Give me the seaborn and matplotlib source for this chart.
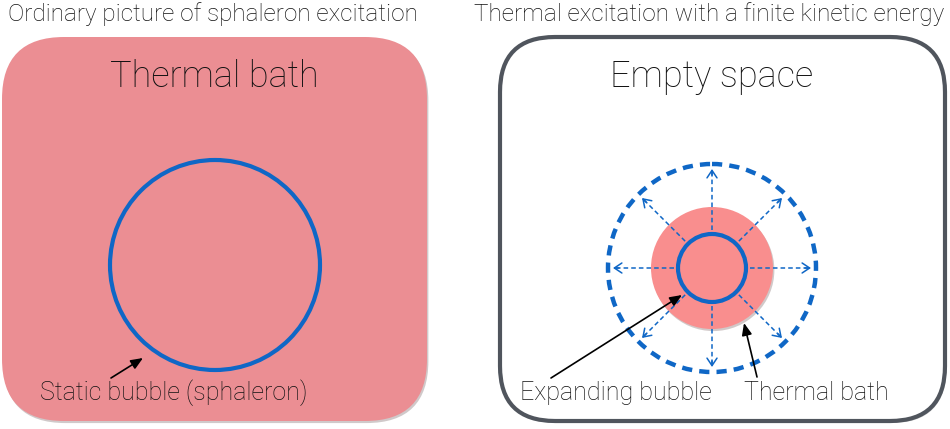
import numpy as np
import matplotlib
matplotlib.use("Agg")
import matplotlib.pyplot as plt
import matplotlib.patheffects as pe
from matplotlib.patches import FancyBboxPatch, Circle
import seaborn as sns

# panel titles and labels
panel_titles = ["Ordinary picture of sphaleron excitation",
                "Thermal excitation with a finite kinetic energy"]
box_titles = ["Thermal bath", "Empty space"]
labels_left = ["Static bubble (sphaleron)"]
labels_right = ["Expanding bubble", "Thermal bath"]

# geometry (pixel units)
box_x = [2, 500]
box_w = [425, 445]
box_y, box_h = 37, 384
left_center = (215, 265)
left_radius = 105
right_center = (712, 268)
bath_radius = 61
inner_radius = 34
outer_radius = 104
arrow_angles = [0, 45, 90, 135, 180, 225, 270, 315]

BLUE = "#0f67c6"
PINK_BOX = "#eb8e93"
PINK_DISK = "#f98e8e"
GRAY = "#50555d"
TXT = "#111111"

sns.set_theme(style="white")
plt.rcParams['font.family'] = ['Roboto', 'DejaVu Sans']

fig = plt.figure(figsize=(9.5, 4.29), dpi=100)
ax = fig.add_axes([0, 0, 1, 1])
ax.set_xlim(0, 950)
ax.set_ylim(429, 0)
ax.set_aspect('equal')
ax.axis('off')

shadow = [pe.SimplePatchShadow(offset=(1, -1.5), alpha=0.25), pe.Normal()]

# left panel: thermal bath box
left_box = FancyBboxPatch((box_x[0], box_y), box_w[0], box_h,
                          boxstyle="round,pad=0,rounding_size=62",
                          fc=PINK_BOX, ec="none", path_effects=shadow)
ax.add_patch(left_box)
ax.add_patch(Circle(left_center, left_radius, fc="none", ec=BLUE, lw=3.0))

# right panel: empty space box
right_box = FancyBboxPatch((box_x[1], box_y), box_w[1], box_h,
                           boxstyle="round,pad=0,rounding_size=55",
                           fc="white", ec=GRAY, lw=3.0, path_effects=shadow)
ax.add_patch(right_box)
ax.add_patch(Circle(right_center, bath_radius, fc=PINK_DISK, ec="none",
                    path_effects=[pe.SimplePatchShadow(offset=(1, -1.5), alpha=0.25), pe.Normal()]))
ax.add_patch(Circle(right_center, outer_radius, fc="none", ec=BLUE, lw=3.2,
                    linestyle=(0, (2.3, 1.6))))

# radial dotted arrows
for a in arrow_angles:
    t = np.deg2rad(a)
    dx, dy = np.cos(t), -np.sin(t)
    x0, y0 = right_center[0] + 38 * dx, right_center[1] + 38 * dy
    x1, y1 = right_center[0] + 99 * dx, right_center[1] + 99 * dy
    ax.plot([x0, x1 - 2 * dx], [y0, y1 - 2 * dy], color=BLUE, lw=1.1,
            linestyle=(0, (3, 2)))
    ax.annotate("", xy=(x1, y1), xytext=(x1 - 6 * dx, y1 - 6 * dy),
                arrowprops=dict(arrowstyle="->,head_length=0.45,head_width=0.3",
                                color=BLUE, lw=1.1, shrinkA=0, shrinkB=0))

ax.add_patch(Circle(right_center, inner_radius, fc="none", ec=BLUE, lw=3.0))

# titles
ax.text(8, 14, panel_titles[0], fontsize=17.5, fontweight='light',
        ha='left', va='center', color=TXT)
ax.text(944, 14, panel_titles[1], fontsize=17.5, fontweight='light',
        ha='right', va='center', color=TXT)
ax.text(214, 77, box_titles[0], fontsize=26, fontweight='light',
        ha='center', va='center', color=TXT)
ax.text(712, 77, box_titles[1], fontsize=26, fontweight='light',
        ha='center', va='center', color=TXT)

# labels with arrows
blk = dict(arrowstyle="-|>,head_length=0.6,head_width=0.25", color="black",
           lw=1.2, shrinkA=0, shrinkB=0)
ax.text(40, 393, labels_left[0], fontsize=18, fontweight='light',
        ha='left', va='center', color=TXT)
ax.annotate("", xy=(143, 358), xytext=(111, 378), arrowprops=blk)

ax.text(520, 393, labels_right[0], fontsize=18, fontweight='light',
        ha='left', va='center', color=TXT)
ax.annotate("", xy=(682, 295), xytext=(551, 378), arrowprops=blk)
ax.text(744, 393, labels_right[1], fontsize=18, fontweight='light',
        ha='left', va='center', color=TXT)
ax.annotate("", xy=(744, 323), xytext=(757, 377), arrowprops=blk)

fig.savefig("out.png", dpi=100)
